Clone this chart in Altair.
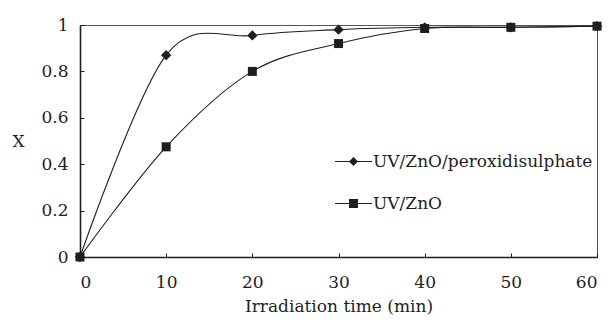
import altair as alt
import pandas as pd

times = [0, 10, 20, 30, 40, 50, 60]
series_names = ["UV/ZnO/peroxidisulphate", "UV/ZnO"]
x_peroxi = [0.0, 0.87, 0.955, 0.98, 0.99, 0.99, 0.995]
x_zno = [0.0, 0.475, 0.80, 0.92, 0.985, 0.99, 0.995]
x_ticks = [0, 10, 20, 30, 40, 50, 60]
y_ticks = [0, 0.2, 0.4, 0.6, 0.8, 1]

rows = []
for t, a, b in zip(times, x_peroxi, x_zno):
    rows.append({"t": t, "X": a, "series": series_names[0]})
    rows.append({"t": t, "X": b, "series": series_names[1]})
df = pd.DataFrame(rows)

FONT = "DejaVu Serif"
FS = 17
INK = "#1e1e1e"
W, H = 517, 232

xscale = alt.Scale(domain=[0, 60], nice=False, zero=False)
yscale = alt.Scale(domain=[0, 1], nice=False)

base = alt.Chart(df)

text_style = dict(labelFont=FONT, labelFontSize=FS, labelColor=INK,
                  titleFont=FONT, titleFontSize=FS, titleColor=INK, titleFontWeight="normal")

lines = base.mark_line(interpolate="cardinal", tension=0, color=INK, strokeWidth=1.1).encode(
    x=alt.X("t:Q", scale=xscale,
            axis=alt.Axis(values=x_ticks, title="Irradiation time (min)", ticks=False, tickSize=0,
                          grid=False, domainColor=INK, domainWidth=1.6, labelPadding=17,
                          titleY=54, titleBaseline="alphabetic", format="d", **text_style)),
    y=alt.Y("X:Q", scale=yscale,
            axis=alt.Axis(values=y_ticks, title="X", ticks=False, tickSize=0, grid=False,
                          domainColor=INK, domainWidth=1.6, labelPadding=12,
                          titleAngle=0, titleX=-62, titleY=H / 2, titleAlign="center",
                          titleBaseline="middle",
                          labelExpr="datum.value == 0 ? '0' : datum.value == 1 ? '1' : format(datum.value, '.1f')",
                          **text_style)),
    detail="series:N",
)

points = base.mark_point(filled=True, size=81, opacity=1, color=INK).encode(
    x=alt.X("t:Q", scale=xscale,
            axis=alt.Axis(orient="top", offset=-H, values=x_ticks, labels=False, domain=False,
                          grid=False, ticks=True, tickSize=4, tickColor=INK, title=None)),
    y=alt.Y("X:Q", scale=yscale,
            axis=alt.Axis(orient="right", offset=-W, values=y_ticks, labels=False, domain=False,
                          grid=False, ticks=True, tickSize=4, tickColor=INK, title=None)),
    shape=alt.Shape("series:N",
                    scale=alt.Scale(domain=series_names,
                                    range=["M-1.15,0L0,-1.15L1.15,0L0,1.15Z", "square"]),
                    legend=None),
)

legend_layer = base.transform_filter("false").mark_point(
    filled=True, color=INK, size=81, opacity=1
).encode(
    shape=alt.Shape("series:N",
                    scale=alt.Scale(domain=series_names,
                                    range=["M-4.1,-0.12H4.1V0.12H-4.1ZM-1,0L0,-1L1,0L0,1Z",
                                           "M-4.1,-0.12H4.1V0.12H-4.1ZM-1,-1H1V1H-1Z"]),
                    legend=alt.Legend(orient="none", legendX=265, legendY=128, title=None,
                                      labelFont=FONT, labelFontSize=FS, labelColor=INK,
                                      labelOffset=11, rowPadding=24, padding=0, labelLimit=400,
                                      symbolFillColor=INK, symbolSize=81, symbolOpacity=1)),
)

chart = alt.layer(lines, points, legend_layer).resolve_scale(
    shape="independent"
).resolve_axis(x="independent", y="independent").properties(
    width=W, height=H,
    autosize=alt.AutoSizeParams(type="none"),
    padding={"left": 72, "top": 17, "right": 10, "bottom": 59},
    background="white",
).configure_view(stroke="#555555", strokeWidth=1)

chart.save("out.html", embed_options={"renderer": "svg", "actions": False})
